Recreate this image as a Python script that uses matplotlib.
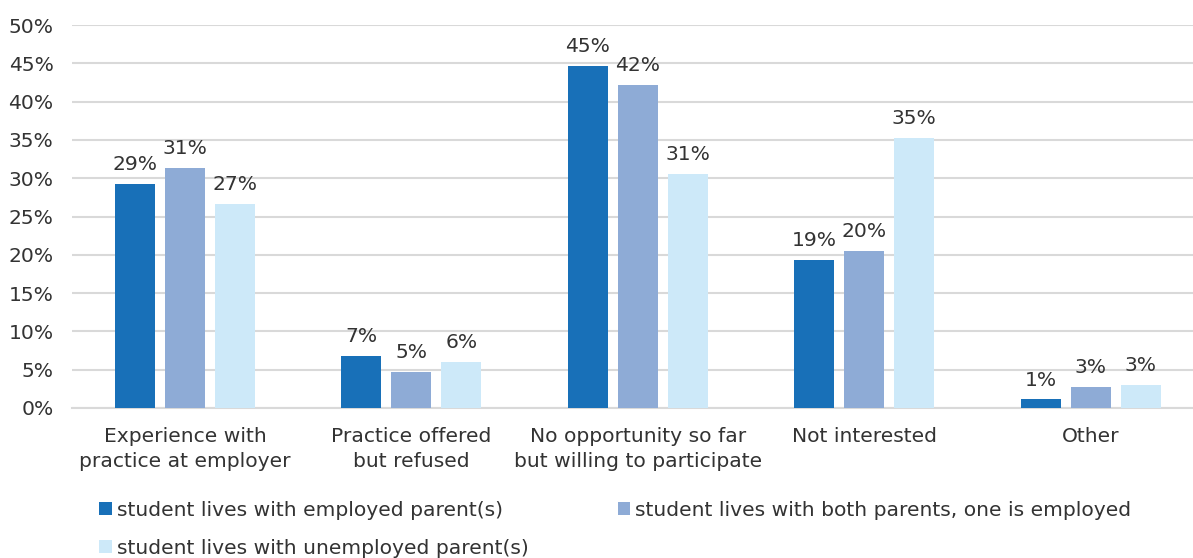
import matplotlib
matplotlib.use("Agg")
import matplotlib.pyplot as plt
import numpy as np

plt.rcParams['font.family'] = ['DejaVu Sans']

categories = [
    "Experience with\npractice at employer",
    "Practice offered\nbut refused",
    "No opportunity so far\nbut willing to participate",
    "Not interested",
    "Other",
]
series_names = [
    "student lives with employed parent(s)",
    "student lives with both parents, one is employed",
    "student lives with unemployed parent(s)",
]
employed = [29.2, 6.8, 44.6, 19.3, 1.1]
one_employed = [31.3, 4.7, 42.2, 20.5, 2.7]
unemployed = [26.6, 6.0, 30.6, 35.2, 3.0]
yticks = [0, 5, 10, 15, 20, 25, 30, 35, 40, 45, 50]

colors = ["#1870b8", "#8eabd6", "#cde9f9"]
text_color = "#333333"
grid_color = "#d9d9d9"
fs = 14.6

fig = plt.figure(figsize=(11.93, 5.58), dpi=100)
ax = fig.add_axes([0.0601, 0.269, 0.949, 0.686])

x = np.arange(len(categories))
width = 0.1766
step = 0.2208
handles = []
for i, (vals, col, name) in enumerate(zip([employed, one_employed, unemployed], colors, series_names)):
    bars = ax.bar(x + (i - 1) * step, vals, width, color=col, label=name, zorder=3)
    handles.append(bars)
    for b, v in zip(bars, vals):
        ax.text(b.get_x() + b.get_width() / 2, v + 1.3, f"{v:.0f}%", ha="center", va="bottom",
                fontsize=fs, color=text_color)

ax.set_xlim(-0.5, len(categories) - 0.5)
ax.set_ylim(0, 50)
ax.set_yticks(yticks)
ax.set_yticklabels([f"{t}%" for t in yticks])
ax.yaxis.grid(True, color=grid_color, linewidth=1.5, zorder=0)
ax.set_axisbelow(True)
for s in ["top", "right", "left"]:
    ax.spines[s].set_visible(False)
ax.spines["bottom"].set_color(grid_color)
ax.spines["bottom"].set_linewidth(1.5)
ax.tick_params(axis="both", length=0, labelsize=fs, colors=text_color)
ax.tick_params(axis="y", pad=13)
ax.set_xticks(x)
ax.set_xticklabels(categories, fontsize=fs, color=text_color, linespacing=1.38)
ax.tick_params(axis="x", pad=14)

leg = fig.legend([handles[0], handles[2], handles[1]],
                 [series_names[0], series_names[2], series_names[1]],
                 ncol=2, loc="upper left", bbox_to_anchor=(0.083, 0.103),
                 frameon=False, fontsize=fs, handlelength=0.62, handleheight=0.62,
                 handletextpad=0.25, columnspacing=4.4, labelspacing=0.95,
                 borderaxespad=0, borderpad=0)
for t in leg.get_texts():
    t.set_color(text_color)

fig.savefig("out.png", dpi=100)
